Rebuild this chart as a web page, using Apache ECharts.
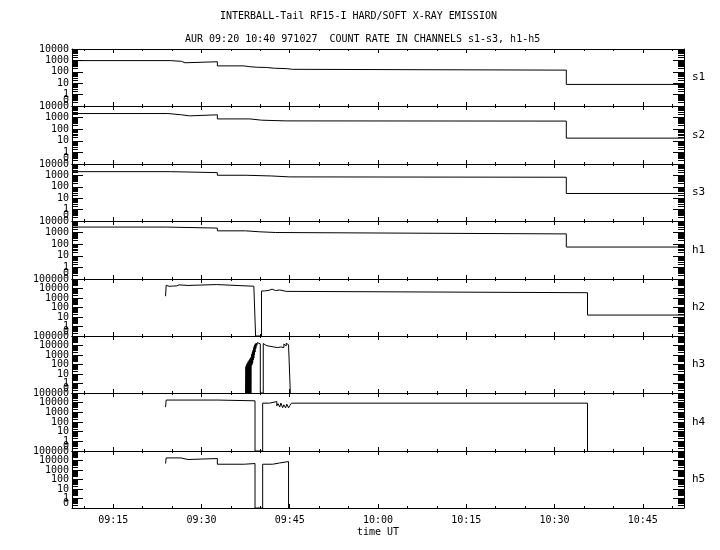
<!DOCTYPE html>
<html><head><meta charset="utf-8">
<script src="https://cdn.jsdelivr.net/npm/echarts@6/dist/echarts.min.js"></script>
<style>html,body{margin:0;padding:0;background:#fff}#c{width:720px;height:550px}</style>
</head><body><div id="c"></div>
<script>
// Times are minutes after 09:00 UT; values are count rates (0 = no counts)
const channels = ['s1', 's2', 's3', 'h1', 'h2', 'h3', 'h4', 'h5'];
const topDecade = [4, 4, 4, 4, 5, 5, 5, 5];

const s1Time = [8, 24.7, 26.6, 27.2, 32.7, 37.2, 38.2, 39.5, 41.0, 42.4, 44.4, 45.5, 92.0, 112];
const s1Val  = [960, 830, 620, 760, 330, 280, 250, 240, 205, 190, 165, 140, 7.8, 7.8];
const s2Time = [8, 24.3, 26.6, 28.0, 32.7, 38.2, 39.6, 40.2, 44.4, 92.0, 112];
const s2Val  = [2240, 1740, 1410, 1740, 770, 650, 600, 520, 500, 17, 17];
const s3Time = [8, 24.7, 32.7, 37.6, 41.9, 45.0, 92.0, 112];
const s3Val  = [2130, 1750, 1030, 890, 740, 690, 26, 26];
const h1Time = [8, 24.1, 32.7, 37.5, 39.9, 42.6, 92.0, 112];
const h1Val  = [3000, 2450, 1420, 1170, 1020, 770, 57, 57];
const h2Time = [23.9, 24.0, 24.3, 24.5, 24.8, 25.1, 25.4, 25.8, 26.2, 27.7, 32.6, 38.9, 39.2, 40.2, 40.7, 41.0, 41.5, 42.0, 42.6, 43.3, 44.4, 95.6, 112];
const h2Val  = [1550, 21900, 17000, 24000, 18000, 23000, 19000, 24000, 21000, 25900, 17300, 21000, 0, 5500, 8000, 6500, 8500, 6000, 7000, 5000, 3600, 16, 16];
const h3Time = [37.5, 37.55, 37.6, 37.65, 37.7, 37.75, 37.8, 37.85, 37.9, 37.95, 38.0, 38.05, 38.1, 38.15, 38.2, 38.25, 38.3, 38.35, 38.4, 38.45,
                38.5, 38.55, 38.6, 38.65, 38.7, 38.75, 38.8, 38.85, 38.9, 38.95, 39.0, 39.05, 39.1, 39.2, 39.25, 39.3, 39.4, 39.5, 39.6, 39.7, 39.8, 40.0,
                40.5, 40.7, 40.9, 41.1, 41.3, 41.6, 41.8, 42.0, 42.3, 42.6, 42.9, 43.2, 43.5, 43.8, 44.0, 44.2, 44.4, 44.6, 44.8, 45.1];
const h3Val  = [0, 60, 0, 90, 0, 120, 0, 150, 0, 200, 0, 250, 0, 300, 0, 400, 0, 500, 0, 600,
                80, 1200, 100, 2000, 150, 3000, 300, 5000, 500, 8000, 1000, 12000, 2000, 15000, 5000, 18000, 10000, 20000, 14000, 19000, 15000, 0,
                16000, 11000, 15000, 9000, 12000, 8000, 5000, 7000, 4500, 6000, 9000, 7000, 11000, 6000, 14000, 9000, 17000, 12000, 16000, 0];
const h4Time = [23.9, 24.0, 32.7, 39.1, 40.4, 41.6, 42.8, 43.0, 43.3, 43.5, 43.8, 44.0, 44.3, 44.5, 44.8, 45.0, 45.3, 95.6];
const h4Val  = [3450, 18600, 15600, 0, 8900, 13200, 4700, 8000, 3500, 9000, 3000, 6000, 2900, 7000, 2900, 5000, 8900, 0];
const h5Time = [23.9, 24.0, 26.5, 27.7, 32.7, 37.3, 39.1, 40.4, 42.1, 43.3, 44.8];
const h5Val  = [4800, 18700, 12700, 16100, 4050, 4800, 0, 4050, 5500, 7700, 0];

const channelTimes = [s1Time, s2Time, s3Time, h1Time, h2Time, h3Time, h4Time, h5Time];
const channelVals  = [s1Val, s2Val, s3Val, h1Val, h2Val, h3Val, h4Val, h5Val];

const timeMajor = [15, 30, 45, 60, 75, 90, 105];
const timeMinor = [10, 20, 25, 35, 40, 50, 55, 65, 70, 80, 85, 95, 100, 110];
const xMin = 8, xMax = 112;

const titleLine1 = 'INTERBALL-Tail RF15-I HARD/SOFT X-RAY EMISSION';
const titleLine2 = 'AUR 09:20 10:40 971027  COUNT RATE IN CHANNELS s1-s3, h1-h5';
const xAxisName = 'time UT';

const FONT = 'DejaVu Sans Mono';
const BLACK = '#000';
const txt = {color: BLACK, fontFamily: FONT, fontSize: 10, fontWeight: 'normal'};

function fmtTime(v) {
  const m = Math.round(v);
  const h = 9 + Math.floor(m / 60), mm = m % 60;
  return String(h).padStart(2, '0') + ':' + String(mm).padStart(2, '0');
}
function fmtCount(v) {
  if (v < -0.01) return '0';
  return String(Math.round(Math.pow(10, v)));
}
function toLog(v) { return v > 0 ? Math.log10(v) : -1; }

const grids = [], xAxes = [], yAxes = [], series = [];
channels.forEach((ch, i) => {
  const top = Math.round(49 + i * 57.375);
  const bot = Math.round(49 + (i + 1) * 57.375);
  grids.push({left: 72, width: 612, top: top, height: bot - top, containLabel: false, outerBoundsMode: 'none'});
  const last = i === channels.length - 1;
  const lineOn = {show: true, onZero: false, lineStyle: {color: BLACK, width: 1}};
  const lineOff = {show: false, onZero: false};
  const xb = {type: 'value', gridIndex: i, min: xMin, max: xMax, splitLine: {show: false}, axisLabel: {show: false}, axisLine: lineOff};
  const tickMaj = {show: true, inside: true, length: 4, customValues: timeMajor, lineStyle: {color: BLACK, width: 1}};
  const tickMin = {show: true, inside: true, length: 2, customValues: timeMinor, lineStyle: {color: BLACK, width: 1}};
  xAxes.push(Object.assign({}, xb, {
    position: 'bottom', axisLine: lineOn, axisTick: tickMaj,
    axisLabel: last ? Object.assign({show: true, customValues: timeMajor, formatter: fmtTime, margin: 7}, txt) : {show: false},
    name: last ? xAxisName : '', nameLocation: 'middle', nameGap: 19, nameTextStyle: txt, nameMoveOverlap: false
  }));
  xAxes.push(Object.assign({}, xb, {position: 'bottom', axisTick: tickMin}));
  xAxes.push(Object.assign({}, xb, {position: 'top', axisLine: lineOn, axisTick: tickMaj}));
  xAxes.push(Object.assign({}, xb, {position: 'top', axisTick: tickMin}));

  const yMax = topDecade[i];
  const majors = [], minors = [];
  for (let d = -1; d <= yMax; d++) majors.push(d);
  for (let d = -1; d < yMax; d++) for (let k = 2; k <= 9; k++) minors.push(d + Math.log10(k));
  const labelVals = [-0.5].concat(majors.slice(1));
  const labelsA = labelVals.filter((v, j) => j % 2 === 0);
  const labelsB = labelVals.filter((v, j) => j % 2 === 1);
  const yb = {type: 'value', gridIndex: i, min: -1, max: yMax, splitLine: {show: false}, axisLabel: {show: false}, axisLine: lineOff};
  const yMaj = {show: true, inside: true, length: 11, customValues: majors, lineStyle: {color: BLACK, width: 1}};
  const yMin = {show: true, inside: true, length: 6, customValues: minors, lineStyle: {color: BLACK, width: 1}};
  const lab = (vals) => Object.assign({show: true, customValues: vals, formatter: fmtCount, margin: 3, padding: [3, 0, 0, 0], showMinLabel: true, showMaxLabel: true, hideOverlap: false}, txt);
  yAxes.push(Object.assign({}, yb, {position: 'left', axisLine: lineOn, axisTick: yMaj, axisLabel: lab(labelsA)}));
  yAxes.push(Object.assign({}, yb, {position: 'left', axisTick: yMin, axisLabel: lab(labelsB)}));
  yAxes.push(Object.assign({}, yb, {position: 'right', axisLine: lineOn, axisTick: yMaj,
    name: ch, nameLocation: 'middle', nameRotate: 0, nameGap: 8, nameTextStyle: Object.assign({align: 'left', verticalAlign: 'middle'}, txt, {fontSize: 11}), nameMoveOverlap: false}));
  yAxes.push(Object.assign({}, yb, {position: 'right', axisTick: yMin}));

  // step line: each value holds until the next sample time
  const times = channelTimes[i], vals = channelVals[i];
  const pts = [];
  times.forEach((t, j) => {
    pts.push([t, toLog(vals[j])]);
    if (j + 1 < times.length) pts.push([times[j + 1], toLog(vals[j])]);
  });
  series.push({
    type: 'line', xAxisIndex: 4 * i, yAxisIndex: 4 * i, showSymbol: false, symbol: 'none',
    lineStyle: {color: BLACK, width: 1}, itemStyle: {color: BLACK}, silent: true, animation: false,
    sampling: null, data: pts
  });
});

const chart = echarts.init(document.getElementById('c'), null, {renderer: 'canvas'});
chart.setOption({
  backgroundColor: '#fff',
  animation: false,
  title: [
    {text: titleLine1, left: 215, top: 6, textStyle: txt},
    {text: titleLine2, left: 180, top: 29, textStyle: txt}
  ],
  grid: grids, xAxis: xAxes, yAxis: yAxes, series: series
});
</script></body></html>
